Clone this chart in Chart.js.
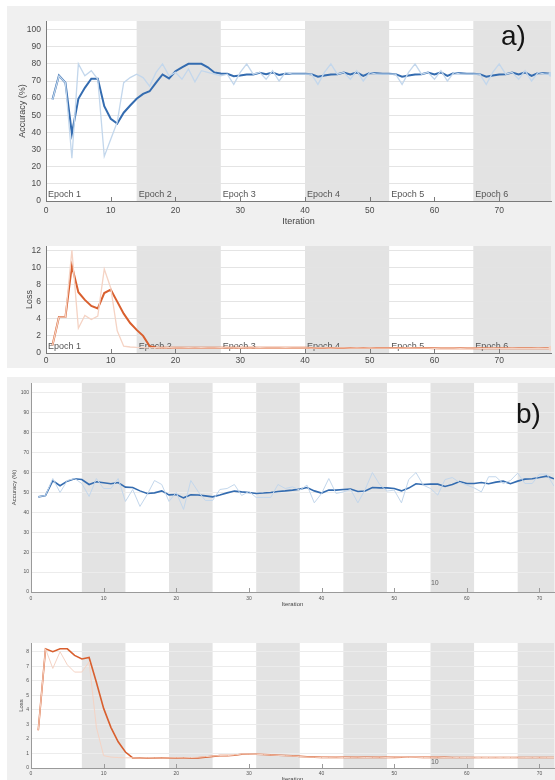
<!DOCTYPE html>
<html>
<head>
<meta charset="utf-8">
<script src="https://cdn.jsdelivr.net/npm/chart.js@4.4.0/dist/chart.umd.min.js"></script>
<style>
  body { margin: 0; width: 555px; height: 780px; position: relative; overflow: hidden; background: #fff;
         font-family: "Liberation Sans", Arial, Helvetica, sans-serif; }
  .panel { position: absolute; background: #f0f0f0; }
  canvas { position: absolute; }
  .tag { position: absolute; font-size: 28px; line-height: 28px; color: #151515; }
</style>
</head>
<body>
<div class="panel" style="left:7px;top:6px;width:548px;height:362px"></div>
<div class="panel" style="left:7px;top:377px;width:548px;height:403px"></div>

<canvas id="accA" width="555" height="232" style="left:0;top:0"></canvas>
<canvas id="lossA" width="555" height="143" style="left:0;top:225px"></canvas>
<canvas id="accB" width="555" height="240" style="left:0;top:372px"></canvas>
<canvas id="lossB" width="555" height="158" style="left:0;top:625px"></canvas>

<div class="tag" style="left:501px;top:22px">a)</div>
<div class="tag" style="left:516px;top:400px">b)</div>

<script>
// ---- data: training run a) (6 epochs x 13 iterations) ----
const epochNamesA = ['Epoch 1', 'Epoch 2', 'Epoch 3', 'Epoch 4', 'Epoch 5', 'Epoch 6'];
const epochStartA = [0, 14, 27, 40, 53, 66];
const shadedA = [[14, 27], [40, 53], [66, 78]];

const rawAccA = [
  59, 73, 69, 25, 80, 73, 76, 71, 26, 36, 46, 69, 72,
  74, 72, 67, 75, 80, 73, 75, 71, 77, 69.5, 76, 75, 74,
  73, 74, 68, 75, 80, 74, 75, 71, 76, 70, 75, 74, 74,
  74, 74, 68, 75, 80, 74, 75, 71, 76, 70, 75, 74, 74,
  74, 74, 68, 75, 80, 74, 75, 71, 76, 70, 75, 74, 74,
  74, 74, 68, 75, 80, 74, 75, 71, 76, 70, 75, 74, 74
];
const smoothAccA = [
  59.2, 73.2, 69, 39.4, 59.6, 66, 71.3, 71.3, 55.3, 48, 45.2, 51.5, 55.7,
  59.6, 62.5, 64, 69, 73.8, 71.5, 75.7, 78, 80, 80, 80, 78, 75,
  74.4, 74.2, 72.8, 73.2, 73.8, 73.8, 74.8, 74, 75, 73.5, 74.2, 74.3, 74.2,
  74.2, 74, 72.5, 73.2, 73.8, 74, 75, 73.8, 75, 73, 74.6, 74.5, 74.3,
  74.2, 74, 72.5, 73.2, 73.8, 74, 75, 73.8, 75, 73, 74.6, 74.5, 74.3,
  74.2, 74, 72.5, 73.2, 73.8, 74, 75, 73.8, 75, 73, 74.6, 74.5, 74.3
];
const rawLossA = [
  0.9, 4.2, 4.2, 12.0, 2.9, 4.4, 3.9, 4.3, 9.8, 7.6, 2.6, 0.8, 0.7,
  0.65, 0.62, 0.6, 0.62, 0.6, 0.63, 0.6, 0.61, 0.62, 0.6, 0.63, 0.61, 0.6,
  0.62, 0.6, 0.61, 0.63, 0.6, 0.6, 0.62, 0.59, 0.61, 0.6, 0.62, 0.59, 0.6,
  0.6, 0.58, 0.6, 0.61, 0.58, 0.59, 0.6, 0.57, 0.59, 0.58, 0.6, 0.57, 0.58,
  0.57, 0.56, 0.58, 0.59, 0.56, 0.57, 0.58, 0.55, 0.57, 0.56, 0.58, 0.55, 0.56,
  0.56, 0.55, 0.55, 0.57, 0.54, 0.55, 0.56, 0.54, 0.55, 0.55, 0.56, 0.54, 0.55
];
const smoothLossA = [
  0.9, 4.2, 4.2, 10.2, 7.1, 6.2, 5.5, 5.2, 7.0, 7.4, 6.0, 4.6, 3.5,
  2.7, 2.0, 0.8, 0.65, 0.62, 0.62, 0.62, 0.62, 0.62, 0.62, 0.62, 0.62, 0.62,
  0.62, 0.61, 0.61, 0.61, 0.61, 0.61, 0.6, 0.6, 0.6, 0.6, 0.6, 0.6, 0.6,
  0.6, 0.59, 0.59, 0.59, 0.59, 0.59, 0.58, 0.58, 0.58, 0.58, 0.58, 0.58, 0.58,
  0.57, 0.57, 0.57, 0.57, 0.57, 0.57, 0.57, 0.56, 0.56, 0.56, 0.56, 0.56, 0.56,
  0.56, 0.56, 0.55, 0.55, 0.55, 0.55, 0.55, 0.55, 0.55, 0.55, 0.55, 0.55, 0.55
];

// ---- data: training run b) (epochs of 6 iterations) ----
const shadedB = [[7, 13], [19, 25], [31, 37], [43, 49], [55, 61], [67, 72]];

const rawAccB = [
  47.8, 48.5, 57, 50, 56, 57, 54.5, 48, 57, 52, 52, 57,
  45.5, 51.5, 43, 49, 56, 54, 45.5, 50, 41.5, 56, 50.5, 46,
  46, 51.5, 52, 54, 48.5, 50.5, 47.5, 47.5, 47.5, 54, 52, 52.8,
  51.2, 53.7, 44.8, 49.5, 57, 49.5, 50.3, 51.5, 44.8, 51.5, 60, 54,
  50.7, 51.2, 44.8, 56.5, 60, 53.7, 52, 48.7, 56.5, 57.5, 55, 53.7,
  52.3, 50.3, 57.9, 57.9, 54.5, 56, 59.7, 54.5, 54.5, 59.2, 59.2, 53.2
];
const smoothAccB = [
  47.8, 48.5, 55.9, 53.4, 55.7, 56.9, 56.5, 54, 55.4, 54.9, 54.4, 55,
  52.7, 52.5, 50.8, 49.5, 49.8, 50.8, 48.8, 49, 47.3, 48.8, 48.7, 48.3,
  47.8, 48.7, 49.8, 50.7, 50.3, 50, 49.5, 49.7, 50, 50.5, 50.8, 51.2,
  51.7, 52.5, 50.8, 49.7, 51.2, 51.2, 51.5, 51.7, 50.5, 50.7, 52.5, 52.3,
  52.3, 52, 50.8, 52.2, 54.4, 54, 54.2, 54.2, 53, 54, 55.5, 54.5,
  54.5, 55, 54.4, 55.2, 55.7, 54.4, 55.7, 56.7, 56.9, 57.5, 58.2, 56.9
];
const rawLossB = [
  2.6, 8.2, 6.85, 8.0, 7.1, 6.6, 6.6, 7.3, 2.8, 0.85, 0.75, 0.72,
  0.7, 0.7, 0.69, 0.71, 0.7, 0.69, 0.7, 0.71, 0.7, 0.72, 0.74, 0.78,
  0.82, 0.86, 0.85, 0.9, 0.96, 0.95, 0.94, 0.92, 0.9, 0.87, 0.85, 0.83,
  0.79, 0.76, 0.74, 0.72, 0.73, 0.74, 0.72, 0.73, 0.74, 0.72, 0.73, 0.74,
  0.72, 0.74, 0.75, 0.73, 0.74, 0.72, 0.73, 0.74, 0.72, 0.71, 0.73, 0.72,
  0.71, 0.73, 0.72, 0.71, 0.73, 0.72, 0.71, 0.72, 0.73, 0.71, 0.72, 0.72
];
const smoothLossB = [
  2.6, 8.2, 8.0, 8.2, 8.2, 7.75, 7.5, 7.6, 5.9, 4.1, 2.8, 1.8,
  1.1, 0.7, 0.7, 0.7, 0.7, 0.7, 0.7, 0.7, 0.7, 0.7, 0.7, 0.75,
  0.8, 0.85, 0.85, 0.88, 0.95, 0.95, 0.95, 0.93, 0.9, 0.88, 0.86, 0.84,
  0.8, 0.77, 0.75, 0.73, 0.73, 0.73, 0.73, 0.73, 0.73, 0.73, 0.73, 0.73,
  0.73, 0.73, 0.74, 0.74, 0.74, 0.73, 0.73, 0.73, 0.73, 0.72, 0.72, 0.72,
  0.72, 0.72, 0.72, 0.72, 0.72, 0.72, 0.72, 0.72, 0.72, 0.72, 0.72, 0.72
];

const FONT = '"Liberation Sans", Arial, Helvetica, sans-serif';
const BLUE = '#346cb0', BLUE_LIGHT = '#c3d7ec';
const ORANGE = '#d95f2e', ORANGE_LIGHT = '#f5d3c4';

// iteration number is the 1-based index of each value
const toPoints = vals => vals.map((v, i) => ({ x: i + 1, y: v }));

// white plot area, shaded epochs, epoch names, inward x ticks, stray notes
const epochPlugin = {
  id: 'epochs',
  beforeDraw(chart, args, opts) {
    const { ctx, chartArea: a, scales: { x } } = chart;
    ctx.save();
    ctx.fillStyle = '#ffffff';
    ctx.fillRect(a.left, a.top, a.width, a.height);
    ctx.fillStyle = '#e3e3e3';
    (opts.bands || []).forEach(([s, e]) => {
      const x0 = Math.max(x.getPixelForValue(s), a.left);
      const x1 = Math.min(x.getPixelForValue(e), a.right);
      ctx.fillRect(x0, a.top, x1 - x0, a.height);
    });
    ctx.restore();
  },
  beforeDatasetsDraw(chart, args, opts) {
    if (!opts.names) return;
    const { ctx, chartArea: a, scales: { x } } = chart;
    ctx.save();
    ctx.font = '9px ' + FONT;
    ctx.fillStyle = '#555';
    ctx.textBaseline = 'alphabetic';
    opts.names.forEach((name, i) => {
      ctx.fillText(name, x.getPixelForValue(opts.starts[i]) + 2, a.bottom - 4);
    });
    ctx.restore();
  },
  afterDraw(chart, args, opts) {
    const { ctx, chartArea: a, scales: { x, y } } = chart;
    ctx.save();
    ctx.strokeStyle = opts.tickColor || '#777';
    ctx.lineWidth = 1;
    ctx.beginPath();
    x.ticks.forEach(t => {
      const px = Math.round(x.getPixelForValue(t.value)) + 0.5;
      if (px <= a.left + 1) return;
      ctx.moveTo(px, a.bottom);
      ctx.lineTo(px, a.bottom - 4);
    });
    ctx.stroke();
    (opts.notes || []).forEach(n => {
      ctx.font = n.size + 'px ' + FONT;
      ctx.fillStyle = '#666';
      ctx.textAlign = 'center';
      ctx.textBaseline = 'middle';
      ctx.fillText(n.text, x.getPixelForValue(n.x), y.getPixelForValue(n.y));
    });
    ctx.restore();
  }
};

function makePlot(id, c) {
  const last = c.raw.length - 1;
  return new Chart(document.getElementById(id), {
    type: 'line',
    data: {
      datasets: [
        {
          data: toPoints(c.raw),
          borderColor: c.light,
          borderWidth: c.rawWidth,
          pointRadius: ctx => (c.endMarker && ctx.dataIndex === last ? 2.5 : 0),
          pointBackgroundColor: c.light,
          pointBorderWidth: 0,
          tension: 0
        },
        {
          data: toPoints(c.smooth),
          borderColor: c.color,
          borderWidth: c.lineWidth,
          pointRadius: 0,
          tension: 0
        }
      ]
    },
    options: {
      responsive: false,
      animation: false,
      devicePixelRatio: 1,
      layout: { padding: { left: 0, top: c.padTop, right: c.padRight, bottom: 0 } },
      plugins: {
        legend: { display: false },
        tooltip: { enabled: false },
        epochs: { bands: c.bands, names: c.names, starts: c.starts, notes: c.notes, tickColor: c.axisColor }
      },
      scales: {
        x: {
          type: 'linear',
          min: 0,
          max: c.xMax,
          grid: { display: false, drawTicks: false },
          border: { display: true, color: c.axisColor, width: 1 },
          ticks: {
            stepSize: 10,
            includeBounds: false,
            color: c.tickColor,
            padding: c.xTickPad,
            maxRotation: 0,
            font: { family: FONT, size: c.tickSize }
          },
          title: {
            display: !!c.xTitle,
            text: c.xTitle,
            color: '#444',
            font: { family: FONT, size: c.titleSize },
            padding: { top: 0, bottom: c.xTitlePad }
          },
          afterFit: s => { s.height = c.xHeight; }
        },
        y: {
          min: 0,
          max: c.yMax,
          grid: { color: c.gridColor, drawTicks: false, lineWidth: 1 },
          border: { display: true, color: c.axisColor, width: 1 },
          ticks: {
            stepSize: c.yStep,
            includeBounds: false,
            color: c.tickColor,
            padding: c.yTickPad,
            font: { family: FONT, size: c.tickSize }
          },
          title: {
            display: true,
            text: c.yTitle,
            color: '#444',
            font: { family: FONT, size: c.titleSize },
            padding: { top: c.yTitlePad, bottom: 0 }
          },
          afterFit: s => { s.width = c.yWidth; }
        }
      }
    },
    plugins: [epochPlugin]
  });
}

const styleA = {
  xMax: 78, padTop: 21, padRight: 4, yWidth: 46, tickSize: 8.5, titleSize: 9,
  tickColor: '#4a4a4a', axisColor: '#7a7a7a', gridColor: '#e4e4e4',
  xTickPad: 5, yTickPad: 5, rawWidth: 1.3, lineWidth: 2, endMarker: true,
  bands: shadedA, names: epochNamesA, starts: epochStartA
};
const styleB = {
  xMax: 72, padRight: 1, yWidth: 31, tickSize: 5, titleSize: 6,
  tickColor: '#555', axisColor: '#9a9a9a', gridColor: '#ececec',
  yTickPad: 2, rawWidth: 1, lineWidth: 1.6, endMarker: false,
  bands: shadedB
};

makePlot('accA', Object.assign({}, styleA, {
  raw: rawAccA, smooth: smoothAccA, color: BLUE, light: BLUE_LIGHT,
  yMax: 105, yStep: 10, yTitle: 'Accuracy (%)', yTitlePad: 17,
  xTitle: 'Iteration', xHeight: 31, xTitlePad: 5
}));
makePlot('lossA', Object.assign({}, styleA, {
  raw: rawLossA, smooth: smoothLossA, color: ORANGE, light: ORANGE_LIGHT,
  yMax: 12.5, yStep: 2, yTitle: 'Loss', yTitlePad: 24,
  xTitle: '', xHeight: 15, xTickPad: 3
}));
makePlot('accB', Object.assign({}, styleB, {
  raw: rawAccB, smooth: smoothAccB, color: BLUE, light: BLUE_LIGHT,
  padTop: 11, yMax: 105, yStep: 10, yTitle: 'Accuracy (%)', yTitlePad: 11,
  xTitle: 'Iteration', xHeight: 20, xTickPad: 3.5, xTitlePad: 4.4,
  notes: [{ text: '10', x: 55.6, y: 4.4, size: 7 }]
}));
makePlot('lossB', Object.assign({}, styleB, {
  raw: rawLossB, smooth: smoothLossB, color: ORANGE, light: ORANGE_LIGHT,
  padTop: 18, yMax: 8.6, yStep: 1, yTitle: 'Loss', yTitlePad: 18,
  xTitle: 'Iteration', xHeight: 15, xTickPad: 2.5, xTitlePad: 0.4,
  notes: [{ text: '10', x: 55.6, y: 0.43, size: 7 }]
}));
</script>
</body>
</html>
